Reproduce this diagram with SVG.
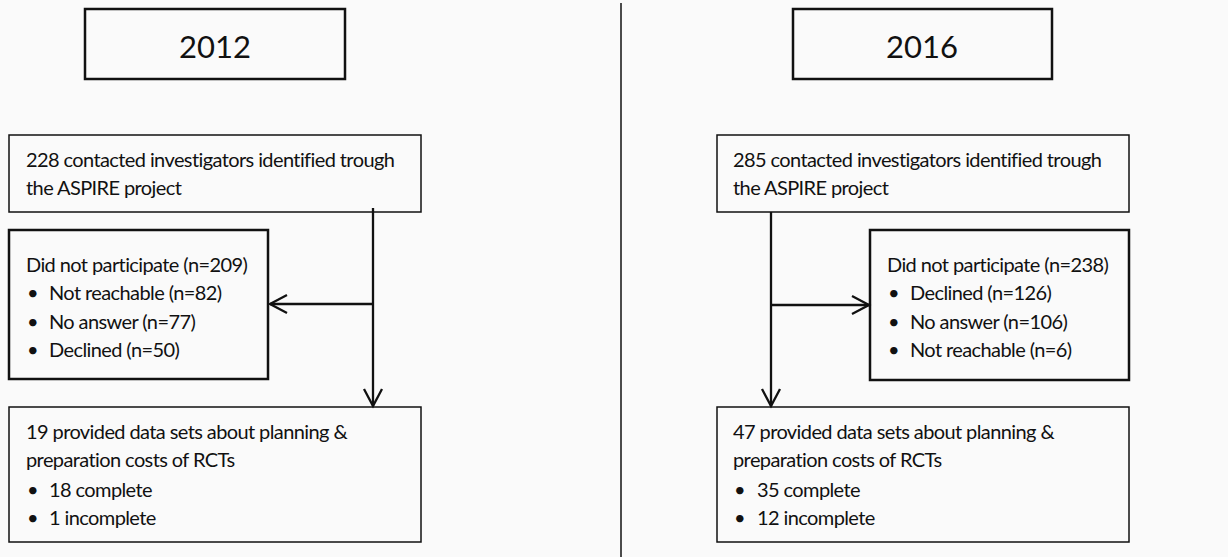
<svg xmlns="http://www.w3.org/2000/svg" width="1228" height="557" viewBox="0 0 1228 557">
<style>
.bg{fill:#fafafa}
.box{fill:#fafafa;stroke:#111;stroke-width:1.5}
.tbox{fill:#fafafa;stroke:#111;stroke-width:2.5}
.t{font-family:Lato,"Liberation Sans",sans-serif;font-size:20px;fill:#111;letter-spacing:-0.6px}
.yr{font-family:Lato,"Liberation Sans",sans-serif;font-size:31px;fill:#111;text-anchor:middle}
.c{stroke:#111;stroke-width:2.3;fill:none}
</style>
<defs>
<marker id="arr" viewBox="0 0 22 22" refX="19" refY="11" markerWidth="22" markerHeight="22" markerUnits="userSpaceOnUse" orient="auto">
<path d="M2,2 L19,11 L2,20" fill="none" stroke="#111" stroke-width="2.3"/>
</marker>
</defs>
<rect class="bg" x="0" y="0" width="1228" height="557"/>
<line x1="621" y1="3" x2="621" y2="557" stroke="#111" stroke-width="1.5"/>

<g id="year2012">
<rect class="tbox" x="85" y="9" width="260" height="70"/>
<text class="yr" x="215" y="58">2012</text>
</g>
<g id="contacted2012">
<rect class="box" x="9" y="135" width="412" height="77"/>
<text class="t" x="26" y="167">228 contacted investigators identified trough</text>
<text class="t" x="26" y="195">the ASPIRE project</text>
</g>
<g id="notpart2012">
<rect class="tbox" x="9" y="230" width="259" height="149"/>
<text class="t" x="26" y="272">Did not participate (n=209)</text>
<text class="t" x="27" y="300">•</text><text class="t" x="49" y="300">Not reachable (n=82)</text>
<text class="t" x="27" y="329">•</text><text class="t" x="49" y="329">No answer (n=77)</text>
<text class="t" x="27" y="357">•</text><text class="t" x="49" y="357">Declined (n=50)</text>
</g>
<g id="provided2012">
<rect class="box" x="9" y="407" width="412" height="135"/>
<text class="t" x="26" y="439">19 provided data sets about planning &amp;</text>
<text class="t" x="26" y="467">preparation costs of RCTs</text>
<text class="t" x="27" y="497">•</text><text class="t" x="49" y="497">18 complete</text>
<text class="t" x="27" y="525">•</text><text class="t" x="49" y="525">1 incomplete</text>
</g>

<g id="year2016">
<rect class="tbox" x="793" y="9" width="259" height="70"/>
<text class="yr" x="922" y="58">2016</text>
</g>
<g id="contacted2016">
<rect class="box" x="717" y="135" width="412" height="77"/>
<text class="t" x="733" y="167">285 contacted investigators identified trough</text>
<text class="t" x="733" y="195">the ASPIRE project</text>
</g>
<g id="notpart2016">
<rect class="tbox" x="870" y="230" width="259" height="150"/>
<text class="t" x="887" y="272">Did not participate (n=238)</text>
<text class="t" x="888" y="300">•</text><text class="t" x="910" y="300">Declined (n=126)</text>
<text class="t" x="888" y="329">•</text><text class="t" x="910" y="329">No answer (n=106)</text>
<text class="t" x="888" y="357">•</text><text class="t" x="910" y="357">Not reachable (n=6)</text>
</g>
<g id="provided2016">
<rect class="box" x="717" y="407" width="412" height="135"/>
<text class="t" x="733" y="439">47 provided data sets about planning &amp;</text>
<text class="t" x="733" y="467">preparation costs of RCTs</text>
<text class="t" x="734" y="497">•</text><text class="t" x="757" y="497">35 complete</text>
<text class="t" x="734" y="525">•</text><text class="t" x="757" y="525">12 incomplete</text>
</g>

<g id="connectors">
<line class="c" x1="373" y1="208" x2="373" y2="406" marker-end="url(#arr)"/>
<line class="c" x1="373" y1="304" x2="270" y2="304" marker-end="url(#arr)"/>
<line class="c" x1="771" y1="212" x2="771" y2="406" marker-end="url(#arr)"/>
<line class="c" x1="771" y1="305" x2="869" y2="305" marker-end="url(#arr)"/>
</g>
</svg>
